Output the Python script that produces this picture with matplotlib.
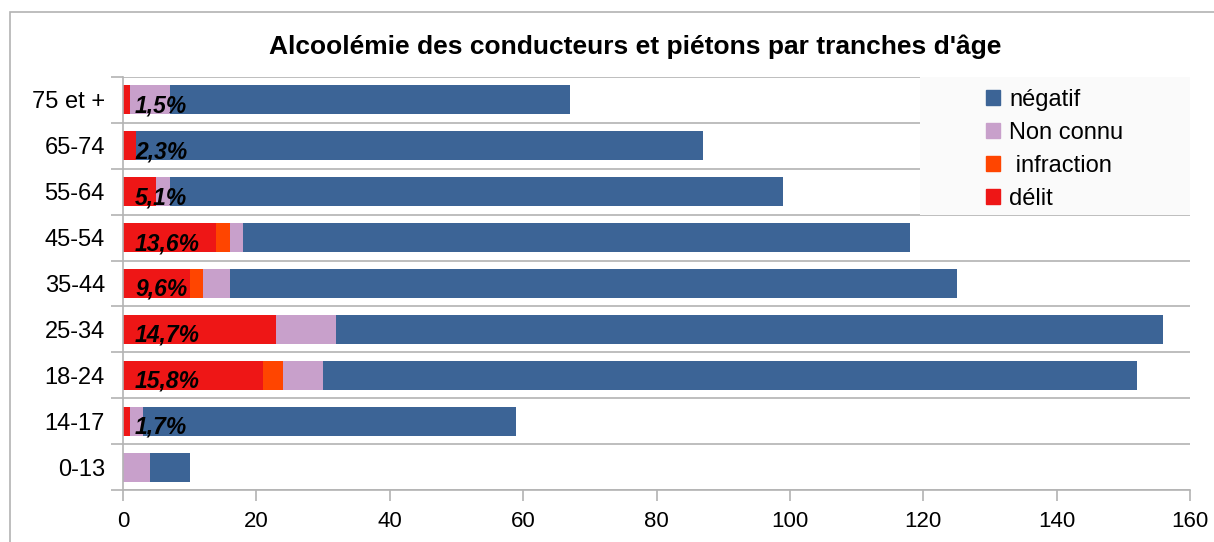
import numpy as np
import matplotlib.pyplot as plt
from matplotlib.patches import Rectangle, Patch

plt.rcParams['font.family'] = ['Liberation Sans', 'DejaVu Sans']

# Data (bottom to top)
categories = ['0-13', '14-17', '18-24', '25-34', '35-44', '45-54', '55-64', '65-74', '75 et +']
delit      = [0, 1, 21, 23, 10, 14, 5, 2, 1]
infraction = [0, 0, 3, 0, 2, 2, 0, 0, 0]
non_connu  = [4, 2, 6, 9, 4, 2, 2, 0, 6]
negatif    = [6, 56, 122, 124, 109, 100, 92, 85, 60]
pct_labels = ['', '1,7%', '15,8%', '14,7%', '9,6%', '13,6%', '5,1%', '2,3%', '1,5%']

series = [('délit', delit, '#ee1616'),
          (' infraction', infraction, '#ff4500'),
          ('Non connu', non_connu, '#c8a0cb'),
          ('négatif', negatif, '#3c6496')]

W, H = 1214, 542
fig = plt.figure(figsize=(W / 100, H / 100), dpi=100)
ax = fig.add_axes([123 / W, 1 - 490 / H, (1190 - 123) / W, (490 - 77) / H])

y = np.arange(len(categories))
left = np.zeros(len(categories))
for name, vals, col in series:
    ax.barh(y, vals, left=left, height=0.63, color=col, zorder=3)
    left += np.array(vals)

for yi, lab in zip(y, pct_labels):
    if lab:
        ax.text(1.8, yi - 0.27, lab, fontsize=16.5, fontweight='bold', fontstyle='italic',
                va='baseline', ha='left', color='black', zorder=5)

grey = '#b3b3b3'
ax.set_xlim(0, 160)
ax.set_ylim(-0.5, len(categories) - 0.5)
ax.set_xticks(np.arange(0, 161, 20))
ax.set_yticks(y)
ax.set_yticklabels(categories)
ax.set_yticks(np.arange(-0.5, len(categories), 1), minor=True)
ax.tick_params(axis='y', which='major', length=0, pad=13, labelsize=17)
ax.tick_params(axis='y', which='minor', length=9, width=1.2, color=grey)
ax.tick_params(axis='x', length=8, width=1.2, color=grey, pad=7, labelsize=16)
ax.grid(axis='y', which='minor', color=grey, lw=1.2, zorder=0)
for s in ['top', 'right']:
    ax.spines[s].set_visible(False)
for s in ['left', 'bottom']:
    ax.spines[s].set_color(grey)
    ax.spines[s].set_linewidth(1.2)
    ax.spines[s].set_zorder(4)

# legend background and entries
ax.add_patch(Rectangle((0.747, 0.666), 0.253, 0.334, transform=ax.transAxes,
                       facecolor='#fafafa', edgecolor='none', zorder=4))
handles = [Patch(color=col, label=name) for name, vals, col in series[::-1]]
ax.legend(handles=handles, loc='upper left', bbox_to_anchor=(0.803, 0.985), frameon=False,
          fontsize=17, handlelength=0.6, handleheight=0.6, handletextpad=0.4,
          labelspacing=0.46, borderpad=0.25, borderaxespad=0)

fig.text(635 / W, 1 - 47 / H, "Alcoolémie des conducteurs et piétons par tranches d'âge",
         ha='center', va='center', fontsize=19, fontweight='bold')

fig.patches.append(Rectangle((10 / W, -0.1), 1.2, 1.1 - 12 / H, transform=fig.transFigure,
                             facecolor='none', edgecolor=grey, lw=1.2))

fig.savefig('out.png', dpi=100)
